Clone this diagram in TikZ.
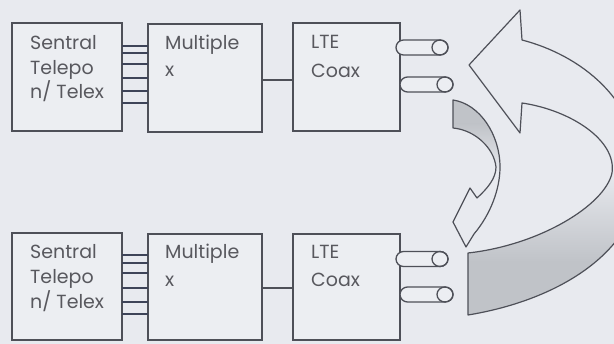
\documentclass[tikz,border=0pt]{standalone}
\usepackage{fontspec}
\setmainfont{Poppins}
\definecolor{bgc}{RGB}{232,234,239}
\definecolor{boxfill}{RGB}{236,238,242}
\definecolor{ln}{RGB}{78,80,88}
\definecolor{wire}{RGB}{62,68,88}
\definecolor{tx}{RGB}{88,88,94}
\definecolor{shd}{RGB}{192,195,200}
\begin{document}
\begin{tikzpicture}[x=1pt,y=-1pt,
  box/.style={draw=ln, line width=1.4pt, fill=boxfill, anchor=north west, inner sep=0pt, outer sep=0pt},
  lbl/.style={text=tx, anchor=base west, inner sep=0pt, font=\fontsize{19}{24}\selectfont},
  wireline/.style={draw=wire, line width=1.5pt},
  link/.style={draw=ln, line width=1.3pt},
  coax/.style={draw=ln, line width=1.3pt, fill=boxfill},
  arrowline/.style={draw=ln, line width=1.2pt}]
\fill[bgc] (0,0) rectangle (614,344);
\useasboundingbox (0,0) rectangle (614,344);
\clip (0,0) rectangle (614,344);

% ---------- top row ----------
\node[box, minimum width=110pt, minimum height=108pt] (s1) at (12,23) {};
\node[box, minimum width=114pt, minimum height=108pt] (m1) at (148,24) {};
\node[box, minimum width=107pt, minimum height=108pt] (l1) at (293,23) {};
\node[lbl] (s1a) at (30,50) {Sentral};
\node[lbl] (s1b) at (30,75) {Telepo};
\node[lbl] (s1c) at (30,99) {n/ Telex};
\node[lbl] (m1a) at (165,50) {Multiple};
\node[lbl] (m1b) at (165,77) {x};
\node[lbl] (l1a) at (311,49) {LTE};
\node[lbl] (l1b) at (311,78) {Coax};
\foreach \d in {23,30,41,55,68,80}
  \draw[wireline] ([yshift=-\d pt]s1.north east) -- ([yshift=-\d pt]s1.north east -| m1.west);
\draw[link] ([yshift=-56pt]m1.north east) -- ([yshift=-56pt]m1.north east -| l1.west);

% ---------- bottom row ----------
\node[box, minimum width=110pt, minimum height=107pt] (s2) at (12,233) {};
\node[box, minimum width=114pt, minimum height=106pt] (m2) at (148,234) {};
\node[box, minimum width=107pt, minimum height=106pt] (l2) at (293,234) {};
\node[lbl] (s2a) at (30,259) {Sentral};
\node[lbl] (s2b) at (30,284) {Telepo};
\node[lbl] (s2c) at (30,309) {n/ Telex};
\node[lbl] (m2a) at (165,259) {Multiple};
\node[lbl] (m2b) at (165,287) {x};
\node[lbl] (l2a) at (311,259) {LTE};
\node[lbl] (l2b) at (311,287) {Coax};
\foreach \d in {22,30,40,55,69,81}
  \draw[wireline] ([yshift=-\d pt]s2.north east) -- ([yshift=-\d pt]s2.north east -| m2.west);
\draw[link] ([yshift=-54pt]m2.north east) -- ([yshift=-54pt]m2.north east -| l2.west);

% ---------- coax connectors ----------
\foreach \xl/\xr/\yc in {396/440/47.5, 400/445/84.5, 396/440/259, 400/445/294.5} {
  \path[coax] (\xr,\yc-7.5) -- (\xl+7.5,\yc-7.5) arc[start angle=270, end angle=90, radius=7.5]
     -- (\xr,\yc+7.5) arc[start angle=90, end angle=-90, x radius=8, y radius=7.5] -- cycle;
  \draw[link] (\xr,\yc) ellipse[x radius=8, y radius=7.5];
}

% ---------- big curved arrow ----------
\def\bigarrow{(468,253) .. controls (540,245) and (605,205) .. (612,173)
  .. controls (617,140) and (570,110) .. (522,103) -- (520,133) -- (469,65)
  -- (520,10) -- (522,40) .. controls (580,55) and (640,100) .. (640,175)
  .. controls (640,250) and (560,300) .. (468,315) -- cycle}
\fill[bgc] \bigarrow;
\begin{scope}
  \clip \bigarrow;
  \shade[top color=bgc, bottom color=shd] (440,170) rectangle (660,262);
  \fill[shd] (440,261) rectangle (660,330);
\end{scope}
\draw[arrowline, line join=round] \bigarrow;

% ---------- small twisted arrow ----------
\def\smallarrow{(453,100) .. controls (480,104) and (500,135) .. (500,167)
  .. controls (500,190) and (490,215) .. (474,234) -- (466,247) -- (453,222)
  -- (470,188) -- (477,198) .. controls (488,188) and (496,178) .. (496,167)
  .. controls (494,148) and (475,130) .. (453,128) -- cycle}
\fill[bgc] \smallarrow;
\begin{scope}
  \clip \smallarrow;
  \fill[shd] (440,90) rectangle (510,125);
  \shade[top color=shd, bottom color=bgc] (440,124) rectangle (510,172);
\end{scope}
\draw[arrowline, line join=round] \smallarrow;
\end{tikzpicture}
\end{document}
